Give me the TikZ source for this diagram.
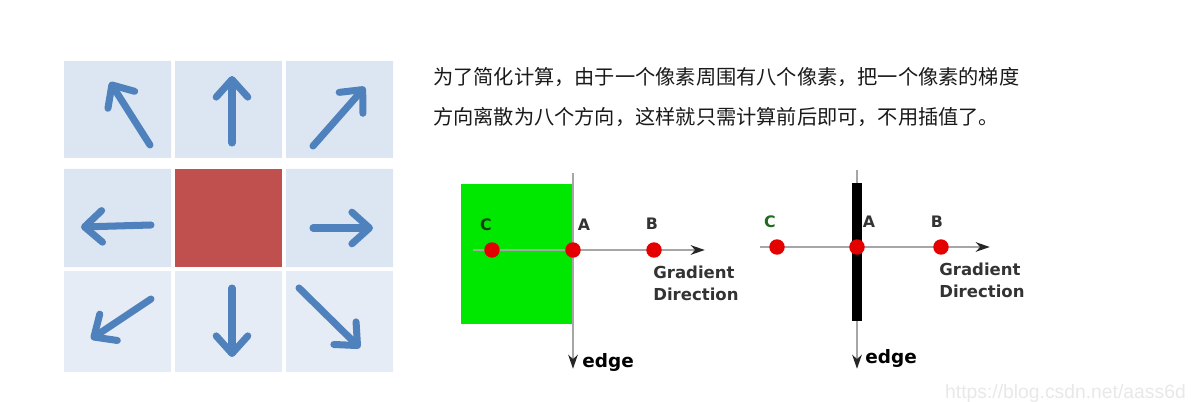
\documentclass[tikz,border=0pt]{standalone}
\usepackage{fontspec}
\setmainfont{DejaVu Sans}
\newfontfamily\cjk{Noto Sans CJK SC}
\newfontfamily\markfont{Liberation Sans}
\usetikzlibrary{arrows.meta,positioning}
\definecolor{cellblue}{HTML}{DCE6F2}
\definecolor{celllight}{HTML}{E6ECF5}
\definecolor{pixred}{HTML}{C0504D}
\definecolor{dirblue}{HTML}{4F81BD}
\definecolor{edgegreen}{HTML}{00E800}
\definecolor{labgreen}{HTML}{1F6B1F}
\tikzset{
  dirarrow/.style={dirblue,line width=4pt,line cap=round,-{Straight Barb[length=10pt,width=18pt,round]}},
  guide/.style={gray!70,line width=0.9pt,-{Stealth[length=8pt,width=5.5pt,inset=2.5pt,color=black!85]},shorten >=-1pt},
  dot/.style={circle,fill=red!90!black,draw=none,inner sep=0pt,minimum size=8.8pt},
  lab/.style={font=\bfseries\fontsize{9pt}{10pt}\selectfont,inner sep=0pt,text=black!80},
  gradtext/.style={font=\bfseries\fontsize{9.4pt}{12.4pt}\selectfont,align=left,inner sep=0pt,anchor=north west,text=black!80},
  edgetext/.style={font=\bfseries\fontsize{10.5pt}{12pt}\selectfont,inner sep=0pt,anchor=west},
  cjktext/.style={font=\cjk\fontsize{11.5pt}{14pt}\selectfont,inner sep=0pt,anchor=west,text=black!90}
}
\begin{document}
\begin{tikzpicture}[x=0.02cm,y=-0.02cm]
  \useasboundingbox (0,0) rectangle (1204,402);
  % eight neighbours
  \fill[cellblue] (64,61) rectangle (171,158) (175,61) rectangle (282,158) (286,61) rectangle (393,158);
  \fill[cellblue] (64,169) rectangle (171,267) (286,169) rectangle (393,267);
  \fill[pixred] (175,169) rectangle (282,267);
  \fill[celllight] (64,271) rectangle (171,372) (175,271) rectangle (282,372) (286,271) rectangle (393,372);
  \foreach \tx/\ty/\hx/\hy in {150/145/110/82, 232/143/232/76, 313/146/365/87,
      151/225/81/227, 313/228/373/228,
      151/299/91/339, 232/288/232/357, 299/288/360/348}
    \draw[dirarrow] (\tx,\ty) -- (\hx,\hy);
  % text
  \node[cjktext] (lineone) at (433,77) {为了简化计算，由于一个像素周围有八个像素，把一个像素的梯度};
  \node[cjktext] (linetwo) at (433,117) {方向离散为八个方向，这样就只需计算前后即可，不用插值了。};
  % region edge
  \begin{scope}
    \fill[edgegreen] (461,184) rectangle (573,324);
    \coordinate (edgetopL) at (573,173);
    \coordinate (edgeendL) at (573,367);
    \coordinate (gradstartL) at (473,250);
    \coordinate (gradendL) at (703,250);
    \draw[guide] (edgetopL) -- (edgeendL);
    \draw[guide] (gradstartL) -- (gradendL);
    \node[dot] (cL) at (492,250) {};
    \node[dot] (aL) at (573,250) {};
    \node[dot] (bL) at (654,250) {};
    \node[lab,text=labgreen!60!black] (cLlab) at (486,225) {C};
    \node[lab] (aLlab) at (584,225) {A};
    \node[lab] (bLlab) at (652,224) {B};
    \node[gradtext] (gradL) at (653,266) {Gradient\\Direction};
    \node[edgetext] (edgeL) at (582,362) {edge};
  \end{scope}
  % line edge
  \begin{scope}
    \coordinate (edgetopR) at (857,170);
    \coordinate (edgeendR) at (857,367);
    \coordinate (gradstartR) at (760,247);
    \coordinate (gradendR) at (988,247);
    \draw[guide] (edgetopR) -- (edgeendR);
    \fill[black] (852,183) rectangle (862,321);
    \draw[guide] (gradstartR) -- (gradendR);
    \node[dot] (cR) at (777,247) {};
    \node[dot] (aR) at (857,247) {};
    \node[dot] (bR) at (941,247) {};
    \node[lab,text=labgreen] (cRlab) at (770,222) {C};
    \node[lab] (aRlab) at (869,222) {A};
    \node[lab] (bRlab) at (937,222) {B};
    \node[gradtext] (gradR) at (939,263) {Gradient\\Direction};
    \node[edgetext] (edgeR) at (865,358) {edge};
  \end{scope}
  \node[anchor=base east,text=gray!18,font=\markfont\fontsize{11pt}{13pt}\selectfont] (mark) at (1192,398) {https://blog.csdn.net/aass6d};
\end{tikzpicture}
\end{document}
